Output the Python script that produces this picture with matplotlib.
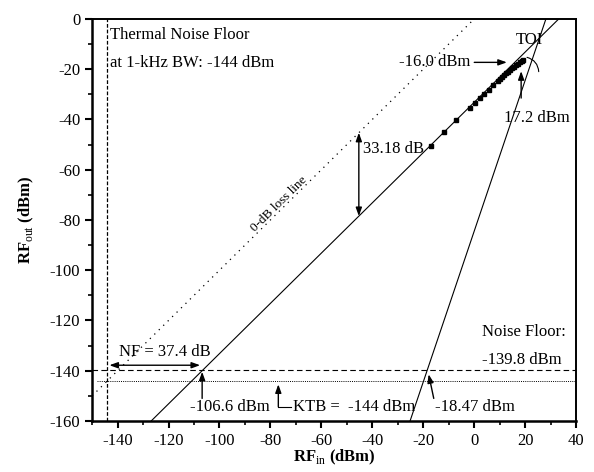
import numpy as np
import matplotlib
matplotlib.use("Agg")
import matplotlib.pyplot as plt

plt.rcParams["font.family"] = ["Liberation Serif", "DejaVu Serif"]
plt.rcParams["mathtext.fontset"] = "custom"
plt.rcParams["mathtext.rm"] = "Liberation Serif"
plt.rcParams["mathtext.bf"] = "Liberation Serif:bold"
plt.rcParams["axes.unicode_minus"] = False

# Measured fundamental output vs input (dBm)
meas_in = [-16.9, -12.0, -7.0, -1.8, 0.2, 2.1, 4.0, 5.6, 7.4, 9.2,
           10.0, 10.8, 11.6, 12.4, 13.2, 14.0, 14.8, 15.6, 16.4, 17.2,
           18.0, 18.7, 19.3]
meas_out = [-50.5, -45.0, -40.2, -35.4, -33.5, -31.6, -29.9, -28.1, -26.3, -24.6,
            -23.8, -23.1, -22.4, -21.7, -21.0, -20.3, -19.6, -19.0, -18.4, -17.8,
            -17.2, -16.7, -16.2]

# Key numbers
loss_db = 33.18          # conversion loss
noise_floor = -139.8     # dBm
ktb = -144.0             # dBm, 1-kHz BW
mds_in = -106.6          # fundamental hits noise floor
im3_in = -18.47          # IM3 hits noise floor

# Extrapolated lines (end points in dBm)
fund_x = [-160 + loss_db, 0 + loss_db]
fund_y = [-160, 0]
im3_x = [im3_in + (-160 - noise_floor) / 3, im3_in + (0 - noise_floor) / 3]
im3_y = [-160, 0]
zero_x = [-150, 0]
zero_y = [-150, 0]

fig = plt.figure(figsize=(5.94, 4.72), dpi=100)
ax = fig.add_axes([0.155, 0.108, 0.815, 0.852])

ax.plot(zero_x, zero_y, color="k", lw=0.9, ls=(0, (1, 4)))
ax.plot(fund_x, fund_y, color="k", lw=0.8)
ax.plot(im3_x, im3_y, color="k", lw=0.8)
ax.plot(meas_in, meas_out, "s", color="k", ms=3.4)
ax.axhline(noise_floor, color="k", lw=0.8, ls=(0, (5, 3)))
ax.axhline(ktb, xmin=0.01, color="k", lw=0.7, ls=(0, (1, 1.2)))
ax.axvline(ktb, color="k", lw=0.9, ls=(0, (3, 1.5)))

ax.set_xlim(-150, 40)
ax.set_ylim(-160, 0)
ax.set_xticks(np.arange(-140, 41, 20))
ax.set_xticks(np.arange(-150, 41, 10), minor=True)
ax.set_yticks(np.arange(-160, 1, 20))
ax.set_yticks(np.arange(-160, 1, 10), minor=True)
ax.tick_params(which="major", direction="out", length=5, width=1.5,
               labelsize=12, top=False, right=False)
ax.tick_params(which="minor", direction="out", length=3, width=1.2,
               top=False, right=False)
for s in ["left", "bottom"]:
    ax.spines[s].set_linewidth(1.8)
for s in ["top", "right"]:
    ax.spines[s].set_linewidth(1.4)

ax.set_xlabel(r"$\mathbf{RF}_{\mathrm{in}}$ (dBm)", fontsize=12,
              fontweight="bold", labelpad=-1)
ax.set_ylabel(r"$\mathbf{RF}_{\mathrm{out}}$ (dBm)", fontsize=12,
              fontweight="bold", labelpad=10)

fs = 12
arw = dict(arrowstyle="-|>,head_length=0.5,head_width=0.18", color="k", lw=1.0,
           shrinkA=0, shrinkB=0)
darw = dict(arrowstyle="<|-|>,head_length=0.5,head_width=0.18", color="k", lw=1.0,
            shrinkA=0, shrinkB=0)

ax.text(-142.8, -6.5, "Thermal Noise Floor", fontsize=fs, va="center")
ax.text(-142.8, -17.7, "at 1-kHz BW: -144 dBm", fontsize=fs, va="center")

# TOI region
ax.text(16.4, -8.3, "TOI", fontsize=fs, va="center")
ax.text(-1.5, -17.3, "-16.0 dBm", fontsize=fs, va="center", ha="right")
ax.annotate("", xy=(12.8, -17.3), xytext=(0.0, -17.3), arrowprops=arw)
ax.annotate("", xy=(18.4, -20.8), xytext=(18.4, -31.5), arrowprops=arw)
ax.annotate("", xy=(25.3, -21.0), xytext=(20.7, -15.3),
            arrowprops=dict(arrowstyle="-", color="k", lw=0.8,
                            connectionstyle="arc3,rad=-0.35",
                            shrinkA=0, shrinkB=0))
ax.text(11.5, -39.6, "17.2 dBm", fontsize=fs, va="center")

# loss
ax.annotate("", xy=(-45.3, -45.3), xytext=(-45.3, -45.3 - loss_db), arrowprops=darw)
ax.text(-43.6, -51.8, "33.18 dB", fontsize=fs, va="center")
ax.text(-76.5, -73.5, "0-dB loss line", fontsize=9.5, va="center", ha="center",
        rotation=44.6, rotation_mode="anchor")

# NF
ax.annotate("", xy=(-143.2, -137.8), xytext=(-107.6, -137.8), arrowprops=darw)
ax.text(-121.5, -132.4, "NF = 37.4 dB", fontsize=fs, va="center", ha="center")
ax.annotate("", xy=(mds_in - 0.2, noise_floor - 0.6), xytext=(mds_in - 0.2, -151.0),
            arrowprops=arw)
ax.text(-95.8, -154.6, "-106.6 dBm", fontsize=fs, va="center", ha="center")

# KTB
ax.plot([-71.8, -76.9], [-154.3, -154.3], color="k", lw=0.8)
ax.annotate("", xy=(-76.9, ktb - 1.4), xytext=(-76.9, -154.3), arrowprops=arw)
ax.text(-71.3, -154.6, "KTB =  -144 dBm", fontsize=fs, va="center")

# IM3 noise floor crossing
ax.annotate("", xy=(-17.9, noise_floor - 1.6), xytext=(-15.9, -151.0), arrowprops=arw)
ax.text(-15.3, -154.6, "-18.47 dBm", fontsize=fs, va="center")

ax.text(3.0, -124.6, "Noise Floor:", fontsize=fs, va="center")
ax.text(3.0, -135.6, "-139.8 dBm", fontsize=fs, va="center")

fig.savefig("out.png", dpi=100)
